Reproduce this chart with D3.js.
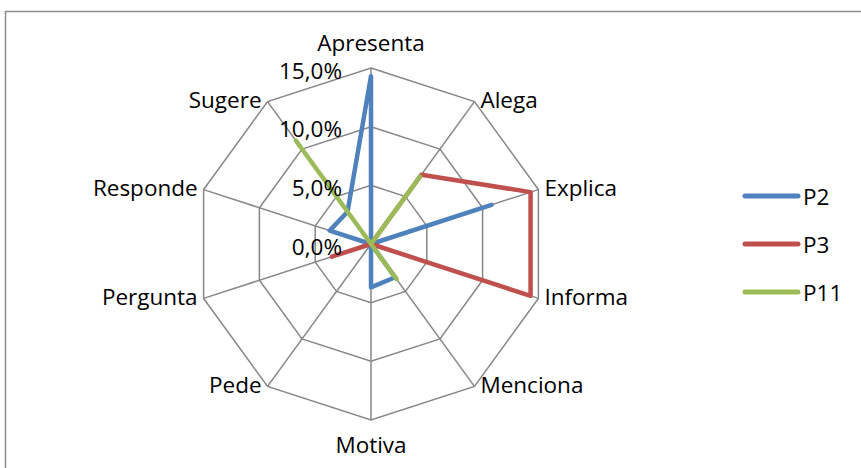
<!DOCTYPE html>
<html>
<head>
<meta charset="utf-8">
<script src="https://cdn.jsdelivr.net/npm/d3@7/dist/d3.min.js"></script>
<style>
  html, body { margin: 0; padding: 0; background: #fff; }
  svg { display: block; }
  text { font-family: "Open Sans", "Liberation Sans", sans-serif; fill: #000; }
</style>
</head>
<body>
<svg id="chart" width="861" height="468"></svg>
<script>
// Categories around the radar, clockwise from the top
const categories = ["Apresenta", "Alega", "Explica", "Informa", "Menciona",
                    "Motiva", "Pede", "Pergunta", "Responde", "Sugere"];

// Percentages per category for each participant
const p2  = [14.3, 0.0, 10.8, 0.0, 3.5, 3.7, 0.0, 0.0, 3.7, 3.4];
const p3  = [0.0, 7.3, 14.3, 14.3, 0.0, 0.0, 0.0, 3.5, 0.0, 0.0];
const p11 = [0.0, 7.1, 0.0, 0.0, 3.7, 0.0, 0.0, 0.0, 0.0, 10.9];

const seriesNames  = ["P2", "P3", "P11"];
const seriesValues = [p2, p3, p11];
const seriesColors = ["#4F81BD", "#C0504D", "#9BBB59"];

const tickValues = [0, 5, 10, 15];
const tickLabels = ["0,0%", "5,0%", "10,0%", "15,0%"];

const cx = 371, cy = 244, outerR = 176;
const fontSize = 22.5;

const svg = d3.select("#chart");

// Chart-area frame (extends past the right and bottom edges)
svg.append("rect")
  .attr("x", 5.5).attr("y", 11.5)
  .attr("width", 900).attr("height", 500)
  .attr("fill", "none")
  .attr("stroke", "#8c8c8c")
  .attr("stroke-width", 1.5);

const r = d3.scaleLinear().domain([0, 15]).range([0, outerR]);
const angle = d3.scalePoint()
  .domain(categories)
  .range([0, 2 * Math.PI * (categories.length - 1) / categories.length]);

const g = svg.append("g").attr("transform", `translate(${cx},${cy})`);

const toXY = (cat, v) => {
  const a = angle(cat);
  return [r(v) * Math.sin(a), -r(v) * Math.cos(a)];
};

// Polygon grid rings
const ringLine = d3.lineRadial()
  .angle(d => angle(d.cat))
  .radius(d => r(d.v))
  .curve(d3.curveLinearClosed);

tickValues.filter(t => t > 0).forEach(t => {
  g.append("path")
    .attr("d", ringLine(categories.map(c => ({ cat: c, v: t }))))
    .attr("fill", "none")
    .attr("stroke", "#868686")
    .attr("stroke-width", 1.5);
});

// Spokes
categories.forEach(c => {
  const [x, y] = toXY(c, 15);
  g.append("line")
    .attr("x1", 0).attr("y1", 0)
    .attr("x2", x).attr("y2", y)
    .attr("stroke", "#868686")
    .attr("stroke-width", 1.5);
});

// Series lines
const seriesLine = d3.lineRadial()
  .angle((d, i) => angle(categories[i]))
  .radius(d => r(d))
  .curve(d3.curveLinearClosed);

seriesValues.forEach((vals, i) => {
  g.append("path")
    .attr("d", seriesLine(vals))
    .attr("fill", "none")
    .attr("stroke", seriesColors[i])
    .attr("stroke-width", 4.5)
    .attr("stroke-linejoin", "round")
    .attr("stroke-linecap", "round");
});

// Radial tick labels
tickValues.forEach((t, i) => {
  g.append("text")
    .attr("x", -29)
    .attr("y", -r(t) + 2)
    .attr("text-anchor", "end")
    .attr("dominant-baseline", "central")
    .attr("font-size", fontSize)
    .text(tickLabels[i]);
});

// Category labels
categories.forEach(c => {
  const a = angle(c);
  const s = Math.sin(a), co = Math.cos(a);
  const [x, y] = toXY(c, 15);
  let anchor = "middle", dx = 0, dy = 0;
  if (Math.abs(s) < 0.01) {
    dy = co > 0 ? -26 : 24;
  } else if (s > 0) {
    anchor = "start"; dx = 6; dy = -2;
  } else {
    anchor = "end"; dx = -6; dy = -2;
  }
  g.append("text")
    .attr("x", x + dx)
    .attr("y", y + dy)
    .attr("text-anchor", anchor)
    .attr("dominant-baseline", "central")
    .attr("font-size", fontSize)
    .text(c);
});

// Legend
const legend = svg.append("g");
const legendY = d3.scalePoint().domain(seriesNames).range([196, 292]);
seriesNames.forEach((n, i) => {
  const y = legendY(n);
  legend.append("line")
    .attr("x1", 745).attr("x2", 798)
    .attr("y1", y).attr("y2", y)
    .attr("stroke", seriesColors[i])
    .attr("stroke-width", 5)
    .attr("stroke-linecap", "round");
  legend.append("text")
    .attr("x", 803).attr("y", y)
    .attr("dominant-baseline", "central")
    .attr("font-size", fontSize)
    .text(n);
});
</script>
</body>
</html>
